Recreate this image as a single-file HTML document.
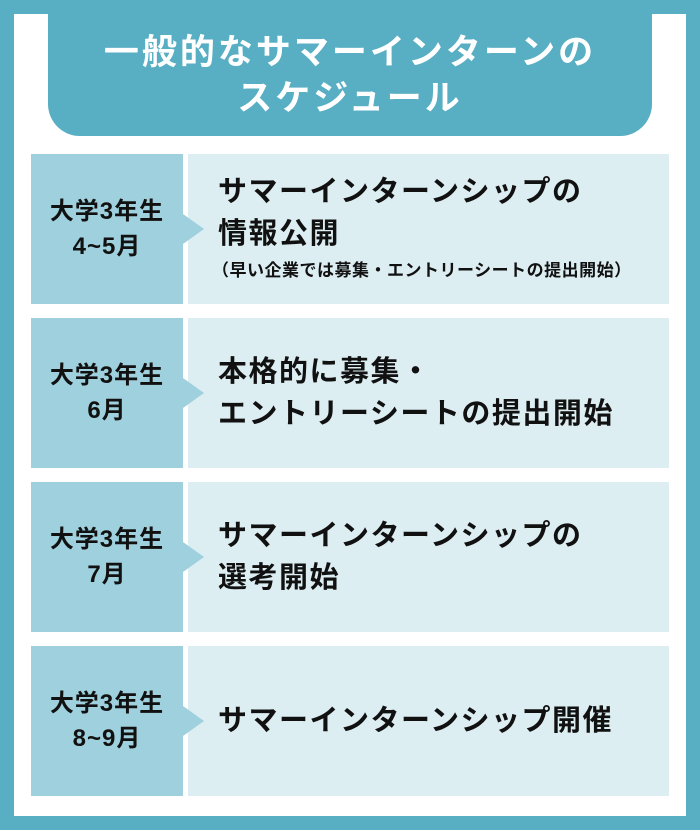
<!DOCTYPE html>
<html><head><meta charset="utf-8"><style>
*{margin:0;padding:0;box-sizing:border-box}
body{width:700px;height:830px;background:#58aec3;position:relative;overflow:hidden;font-family:"Liberation Sans","Noto Sans CJK JP",sans-serif;font-weight:bold}
.panel{position:absolute;left:14px;top:14px;width:672px;height:802px;background:#fff}
.tab{position:absolute;left:48px;top:0;width:604px;height:136px;background:#58aec3;border-radius:0 0 32px 32px;color:#fff;font-size:35px;line-height:46px;text-align:center;padding-top:30px;letter-spacing:3px}
.l{position:absolute;left:31px;width:152px;height:150px;background:#9fd0dd;display:flex;align-items:center;justify-content:center;text-align:center;font-size:24px;line-height:35px;color:#111;letter-spacing:1px}
.r{position:absolute;left:188px;width:481px;height:150px;background:#ddeef3;display:flex;flex-direction:column;justify-content:center;padding-left:30px;font-size:29px;line-height:42px;color:#111;letter-spacing:1.5px}
.r small{font-size:17px;line-height:32px;margin-left:-6px;letter-spacing:0.5px}
.a{position:absolute;z-index:2;left:183px;width:0;height:0;border-top:15px solid transparent;border-bottom:15px solid transparent;border-left:21px solid #9fd0dd}
</style></head><body>
<div class="panel"></div>
<div class="tab">一般的なサマーインターンの<br>スケジュール</div>

<div class="l" style="top:154px">大学3年生<br>4~5月</div>
<div class="a" style="top:214px"></div>
<div class="r" style="top:154px"><div>サマーインターンシップの<br>情報公開</div><small>（早い企業では募集・エントリーシートの提出開始）</small></div>

<div class="l" style="top:318px">大学3年生<br>6月</div>
<div class="a" style="top:378px"></div>
<div class="r" style="top:318px"><div>本格的に募集・<br>エントリーシートの提出開始</div></div>

<div class="l" style="top:482px">大学3年生<br>7月</div>
<div class="a" style="top:542px"></div>
<div class="r" style="top:482px"><div>サマーインターンシップの<br>選考開始</div></div>

<div class="l" style="top:646px">大学3年生<br>8~9月</div>
<div class="a" style="top:706px"></div>
<div class="r" style="top:646px"><div>サマーインターンシップ開催</div></div>
</body></html>
